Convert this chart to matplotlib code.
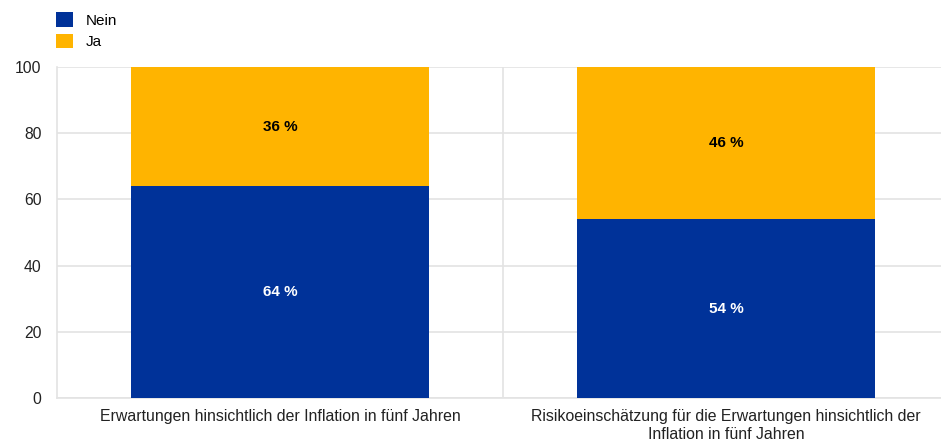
import matplotlib
matplotlib.use("Agg")
import matplotlib.pyplot as plt
from matplotlib.patches import Patch

plt.rcParams['font.family'] = ['Liberation Sans', 'DejaVu Sans']

categories = [
    "Erwartungen hinsichtlich der Inflation in fünf Jahren",
    "Risikoeinschätzung für die Erwartungen hinsichtlich der\nInflation in fünf Jahren",
]
nein = [64, 54]
ja = [36, 46]
series_names = ["Nein", "Ja"]
yticks = [0, 20, 40, 60, 80, 100]

blue = "#003299"
yellow = "#FFB400"
grid_col = "#E3E3E3"

fig = plt.figure(figsize=(9.41, 4.46), dpi=100)
ax = fig.add_axes([57 / 941, 1 - 398 / 446, (949 - 57) / 941, (398 - 67) / 446])

x = list(range(len(categories)))
width = 0.666
ax.bar(x, nein, width=width, color=blue, zorder=3)
ax.bar(x, ja, width=width, bottom=nein, color=yellow, zorder=3)

for xi, n, j in zip(x, nein, ja):
    ax.text(xi, n / 2, f"{n} %", ha="center", va="center", color="white",
            fontsize=11, fontweight="bold", zorder=4)
    ax.text(xi, n + j / 2, f"{j} %", ha="center", va="center", color="black",
            fontsize=11, fontweight="bold", zorder=4)

ax.set_xlim(-0.5, len(categories) - 0.5)
ax.set_ylim(0, 100)
ax.set_yticks(yticks)
ax.set_yticklabels([str(t) for t in yticks], fontsize=11.3, color="#222222")
ax.set_xticks(x)
ax.set_xticklabels(categories, fontsize=11.4, color="#222222", linespacing=1.25)
ax.tick_params(axis="both", length=0)
ax.tick_params(axis="y", pad=11)
ax.tick_params(axis="x", pad=8)

ax.yaxis.grid(True, color=grid_col, linewidth=1.2, zorder=0)
for b in [i + 0.5 for i in x[:-1]]:
    ax.axvline(b, color=grid_col, linewidth=1.2, zorder=0)

for side in ["top", "right"]:
    ax.spines[side].set_visible(False)
for side in ["left", "bottom"]:
    ax.spines[side].set_color(grid_col)
    ax.spines[side].set_linewidth(1.2)

handles = [Patch(facecolor=blue), Patch(facecolor=yellow)]
fig.legend(handles, series_names, loc="upper left",
           bbox_to_anchor=(50 / 941, 1 - 6 / 446), frameon=False,
           fontsize=11, handlelength=1.1, handleheight=1.1,
           handletextpad=0.85, labelspacing=0.4, borderaxespad=0)

fig.savefig("out.png", dpi=100)
